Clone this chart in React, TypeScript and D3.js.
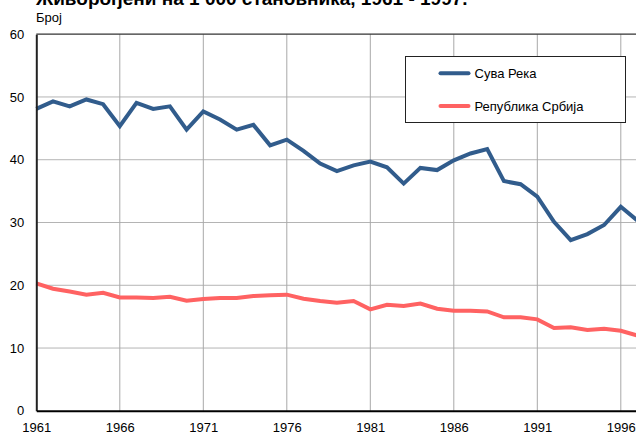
import React, { useEffect, useRef } from "react";
import * as d3 from "d3";

// Живорођени на 1 000 становника
const years = d3.range(1961, 1998);
const suvaReka = [
  48.1, 49.3, 48.5, 49.6, 48.85, 45.35, 49.06, 48.1, 48.5, 44.8,
  47.7, 46.4, 44.8, 45.55, 42.3, 43.2, 41.4, 39.4, 38.2, 39.1,
  39.7, 38.8, 36.2, 38.7, 38.35, 39.9, 41.0, 41.7, 36.6, 36.1,
  34.1, 30.1, 27.2, 28.15, 29.6, 32.5, 30.3,
];
const srbija = [
  20.3, 19.45, 19.0, 18.5, 18.8, 18.07, 18.07, 17.96, 18.17, 17.53,
  17.8, 17.96, 17.96, 18.28, 18.39, 18.5, 17.85, 17.48, 17.2, 17.5,
  16.16, 16.9, 16.7, 17.1, 16.26, 15.95, 15.95, 15.84, 14.9, 14.9,
  14.57, 13.2, 13.3, 12.87, 13.08, 12.75, 12.0,
];
const xTicks = [1961, 1966, 1971, 1976, 1981, 1986, 1991, 1996];
const yTicks = [0, 10, 20, 30, 40, 50, 60];
const seriesNames = ["Сува Река", "Република Србија"];
const colors = ["#315c8c", "#ff6262"];

const App = () => {
  const ref = useRef<SVGSVGElement>(null);

  useEffect(() => {
    const svg = d3.select(ref.current);
    svg.selectAll("*").remove();

    const margin = { left: 36.3, top: 34.2, bottom: 410.8 };
    const x = d3.scaleLinear().domain([1961, 1997]).range([margin.left, 637.5]);
    const y = d3.scaleLinear().domain([0, 60]).range([margin.bottom, margin.top]);
    const font = "Liberation Sans, Arial, sans-serif";

    // title (cropped at the top, as in the source image)
    svg.append("text")
      .attr("x", 36).attr("y", 4.5)
      .attr("font-family", font).attr("font-weight", "bold").attr("font-size", 19)
      .text("Живорођени на 1 000 становника, 1961 - 1997.");
    svg.append("text")
      .attr("x", 36).attr("y", 21.5)
      .attr("font-family", font).attr("font-size", 13)
      .text("Број");

    // grid
    svg.selectAll(".hgrid").data(yTicks.slice(1, -1)).join("line")
      .attr("x1", x(1961)).attr("x2", x(1997))
      .attr("y1", (d) => y(d)).attr("y2", (d) => y(d))
      .attr("stroke", "#b4b4b4").attr("stroke-width", 1);
    svg.selectAll(".vgrid").data(xTicks.slice(1)).join("line")
      .attr("x1", (d) => x(d)).attr("x2", (d) => x(d))
      .attr("y1", y(60)).attr("y2", y(0))
      .attr("stroke", "#a8a8a8").attr("stroke-width", 1);

    // top border
    svg.append("line")
      .attr("x1", x(1961)).attr("x2", x(1997))
      .attr("y1", y(60)).attr("y2", y(60))
      .attr("stroke", "#333").attr("stroke-width", 1.2);

    // lines
    const line = d3.line<number>()
      .x((d, i) => x(years[i]))
      .y((d) => y(d));
    [suvaReka, srbija].forEach((s, i) => {
      svg.append("path")
        .attr("d", line(s))
        .attr("fill", "none")
        .attr("stroke", colors[i])
        .attr("stroke-width", 4)
        .attr("stroke-linejoin", "miter");
    });

    // axes
    const yAxis = svg.append("g")
      .attr("transform", `translate(${margin.left},0)`)
      .call(d3.axisLeft(y).tickValues(yTicks).tickSize(0).tickPadding(12));
    yAxis.select(".domain").attr("stroke", "#222").attr("stroke-width", 2);
    yAxis.selectAll("text").attr("font-family", font).attr("font-size", 13).attr("fill", "#000");

    const xAxis = svg.append("g")
      .attr("transform", `translate(0,${margin.bottom})`)
      .call(d3.axisBottom(x).tickValues(xTicks).tickFormat(d3.format("d")).tickSize(0).tickPadding(12));
    xAxis.select(".domain").attr("stroke", "#000").attr("stroke-width", 2);
    xAxis.selectAll("text").attr("font-family", font).attr("font-size", 13).attr("fill", "#000");

    // legend
    const lg = svg.append("g");
    lg.append("rect")
      .attr("x", 405.5).attr("y", 56.5).attr("width", 220).attr("height", 66)
      .attr("fill", "#fff").attr("stroke", "#222").attr("stroke-width", 1);
    seriesNames.forEach((name, i) => {
      const ly = 73.3 + i * 32.7;
      lg.append("line")
        .attr("x1", 440.5).attr("x2", 468.5).attr("y1", ly).attr("y2", ly)
        .attr("stroke", colors[i]).attr("stroke-width", 4).attr("stroke-linecap", "round");
      lg.append("text")
        .attr("x", 474.5).attr("y", ly).attr("dy", "0.35em")
        .attr("font-family", font).attr("font-size", 13)
        .text(name);
    });
  }, []);

  return (
    <svg
      ref={ref}
      width={636}
      height={434}
      style={{ position: "absolute", left: 0, top: 0, background: "#fff" }}
    />
  );
};

export default App;
